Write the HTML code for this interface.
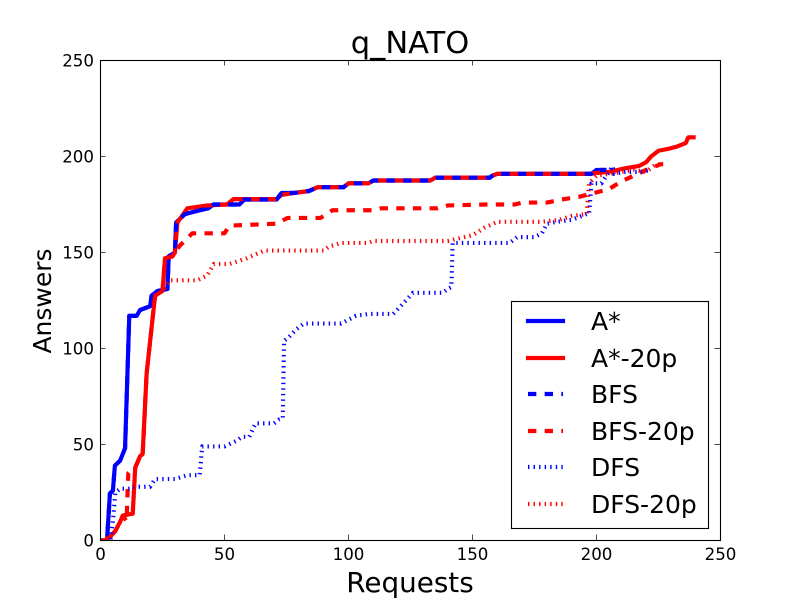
<!DOCTYPE html>
<html>
<head>
<meta charset="utf-8">
<style>
html,body{margin:0;padding:0;background:#fff;}
svg{display:block;}
text{font-family:"DejaVu Sans","Liberation Sans",sans-serif;fill:#000;}
</style>
</head>
<body>
<svg id="chart" width="800" height="600" viewBox="0 0 800 600" xmlns="http://www.w3.org/2000/svg">
  <defs><clipPath id="plot-clip"><rect x="100" y="60" width="620" height="480"/></clipPath></defs>
  <rect x="0" y="0" width="800" height="600" fill="#fff"/>
  <rect x="100" y="60" width="620" height="480" fill="#fff"/>
  <g id="series-layer" clip-path="url(#plot-clip)"></g>
  <g id="tick-layer"></g>
  <rect x="100.5" y="60.5" width="620" height="480" fill="none" stroke="#000" stroke-width="1.1"/>
  <text x="410" y="53" font-size="30.5" text-anchor="middle">q_NATO</text>
  <text x="410" y="592" font-size="27.8" text-anchor="middle">Requests</text>
  <text transform="translate(51,301) rotate(-90)" font-size="25" text-anchor="middle">Answers</text>
  <g>
    <rect x="511.5" y="301.5" width="197" height="227" fill="#fff" stroke="#000" stroke-width="1.1"/>
    <g>
      <line x1="528" x2="563" y1="321" y2="321" stroke="#00f" stroke-width="4.17" stroke-linecap="square"/>
      <text x="591" y="330" font-size="25">A*</text>
    </g>
    <g>
      <line x1="528" x2="563" y1="358" y2="358" stroke="#f00" stroke-width="4.17" stroke-linecap="square"/>
      <text x="591" y="367" font-size="25">A*-20p</text>
    </g>
    <g>
      <line x1="528" x2="563" y1="394" y2="394" stroke="#00f" stroke-width="4.17" stroke-dasharray="8.33 8.33"/>
      <text x="591" y="403" font-size="25">BFS</text>
    </g>
    <g>
      <line x1="528" x2="563" y1="431" y2="431" stroke="#f00" stroke-width="4.17" stroke-dasharray="8.33 8.33"/>
      <text x="591" y="440" font-size="25">BFS-20p</text>
    </g>
    <g>
      <line x1="528" x2="563" y1="467" y2="467" stroke="#00f" stroke-width="4.17" stroke-dasharray="1.39 4.17"/>
      <text x="591" y="476" font-size="25">DFS</text>
    </g>
    <g>
      <line x1="528" x2="563" y1="504" y2="504" stroke="#f00" stroke-width="4.17" stroke-dasharray="1.39 4.17"/>
      <text x="591" y="513" font-size="25">DFS-20p</text>
    </g>
  </g>
</svg>
<script>
var xTickValues = [0, 50, 100, 150, 200, 250];
var yTickValues = [0, 50, 100, 150, 200, 250];

var aStarRequests = [0,2.6,3.8,5,5.8,7.9,9.9,11.6,14.6,15.9,20,20.6,23,27,27.5,30,30.5,34,37,40,43.5,45.6,56,58,71,73,78,84,87.5,98,100,108,110,133,135,157,158,160,198,200,204];
var aStarAnswers = [0,0,24.5,26,39,41.6,48,117,117,120,122,127.5,130,131,148,150,165.6,170,171,172,173,175,175,177.6,177.6,181,181,182,184,184,186,186,187.5,187.5,189,189,190,191,191,193,193];

var aStar20pRequests = [0,2,4,6,8,9,13,14,16,17,18.6,22,25,26,29,30,31,35,43,51,53.6,71,73,78,84,87.5,98,100,108,110,133,135,157,158,160,197,205,212,217,220,222,225,229,232,236,237,240];
var aStar20pAnswers = [0,0,2,5,10,13,14,38,44,45,87,127.5,130,147,148,150,165.6,173,174.5,175,177.8,177.8,180,181,182,184,184,186,186,187.5,187.5,189,189,190,191,191,192,194,195,197,200,203,204,205,207,210,210];

var bfsRequests = [0,2.6,3.8,5,5.8,7.9,9.9,11.6,14.6,15.9,20,20.6,23,27,27.5,30,30.5,34,37,40,43.5,45.6,56,58,71,73,78,84,87.5,98,100,108,110,133,135,157,158,160,198,200,204];
var bfsAnswers = [0,0,24.5,26,39,41.6,48,117,117,120,122,127.5,130,131,148,150,165.6,170,171,172,173,175,175,177.6,177.6,181,181,182,184,184,186,186,187.5,187.5,189,189,190,191,191,193,193];

var bfs20pRequests = [0,2,4,6,8,9,10.5,11.2,13,14,16,17,18.6,22,25,26,29,32,37,50,52,71,75.4,88.7,93.5,110,113,136,140,155,167,170,180,186,193,199,205,210,215,221,226,228];
var bfs20pAnswers = [0,0,2,5,10,13,10,35,37,38,44,45,87,127.5,130,147,148,153.6,160,160,164,165,168,168,172,172,173,173,174.5,175,175,176,176,177.6,179,181,183,187,190,193.6,196,196];

var dfsRequests = [0,4,5,6,8,12,13,20,22,30,35,40,41,50,55,57,60,62.5,70,72,73.5,74,76,79,82,97,100,103,108,118,121,126,138,140,141.5,142,165,168,175,178,180,184,190,196,197,198,202,204,206.5,207,212,218,222];
var dfsAnswers = [0,0,10,25,27,27,28,28,32,32,34,34,49,49,52,54,54,61,61,63,63.5,104,106,110,113,113,115,117,118,118,122,129,129,131,132,155,155,158,158,160,165,166,167,170,170,186,186,190,195,191,192,192,193];

var dfs20pRequests = [0,4,6,8,9,13,14,16,17,18.6,22,25,28,39,43,45.7,52,59,66,90,92,97,108,110,140,150,155,160,178,185,190,196,197,200,210,215,220,224,226];
var dfs20pAnswers = [0,2,5,10,13,14,38,44,45,87,127.5,130,135.5,135.5,138,144,144,147,151,151,153,155,155,156,156,159,163,166,166,167,169,170,186,190,192,193,192,196,196];

function xScale(v) { return 100.5 + v * 2.48; }
function yScale(v) { return 540.5 - v * 1.92; }

var NS = 'http://www.w3.org/2000/svg';
var seriesLayer = document.getElementById('series-layer');
var tickLayer = document.getElementById('tick-layer');

function makeLine(xs, ys) {
  var path = document.createElementNS(NS, 'path');
  var d = '';
  for (var i = 0; i < xs.length; i++) {
    d += (i ? 'L' : 'M') + xScale(xs[i]).toFixed(2) + ' ' + yScale(ys[i]).toFixed(2);
  }
  path.setAttribute('d', d);
  path.setAttribute('fill', 'none');
  path.setAttribute('stroke-width', '4.17');
  path.setAttribute('stroke-linejoin', 'round');
  seriesLayer.appendChild(path);
  return path;
}

var lineAStar = makeLine(aStarRequests, aStarAnswers);


lineAStar.setAttribute('stroke', '#00f');

var lineAStar20p = makeLine(aStar20pRequests, aStar20pAnswers);


lineAStar20p.setAttribute('stroke', '#f00');

var lineBfs = makeLine(bfsRequests, bfsAnswers);


lineBfs.setAttribute('stroke', '#00f');
lineBfs.setAttribute('stroke-dasharray', '8.33 8.33');

var lineBfs20p = makeLine(bfs20pRequests, bfs20pAnswers);


lineBfs20p.setAttribute('stroke', '#f00');
lineBfs20p.setAttribute('stroke-dasharray', '8.33 8.33');

var lineDfs = makeLine(dfsRequests, dfsAnswers);


lineDfs.setAttribute('stroke', '#00f');
lineDfs.setAttribute('stroke-dasharray', '1.39 4.17');

var lineDfs20p = makeLine(dfs20pRequests, dfs20pAnswers);


lineDfs20p.setAttribute('stroke', '#f00');
lineDfs20p.setAttribute('stroke-dasharray', '1.39 4.17');

function makeTick(x1, y1, x2, y2) {
  var t = document.createElementNS(NS, 'line');
  t.setAttribute('x1', x1);
  t.setAttribute('y1', y1);
  t.setAttribute('x2', x2);
  t.setAttribute('y2', y2);
  t.setAttribute('stroke', '#000');
  t.setAttribute('stroke-width', '0.7');
  tickLayer.appendChild(t);
  return t;
}

xTickValues.forEach(function (v) {
  var x = xScale(v);
  var bottomTick = makeTick(x, 540, x, 534.5);
  
  
  var topTick = makeTick(x, 60, x, 65.5);
  
  
  var label = document.createElementNS(NS, 'text');
  
  
  label.setAttribute('x', x);
  label.setAttribute('y', 560);
  label.setAttribute('font-size', '16.67');
  label.setAttribute('text-anchor', 'middle');
  label.textContent = v;
  tickLayer.appendChild(label);
});

yTickValues.forEach(function (v) {
  var y = yScale(v);
  var leftTick = makeTick(100, y, 105.5, y);
  
  
  var rightTick = makeTick(720, y, 714.5, y);
  
  
  var label = document.createElementNS(NS, 'text');
  
  
  label.setAttribute('x', 94);
  label.setAttribute('y', y + 6);
  label.setAttribute('font-size', '16.67');
  label.setAttribute('text-anchor', 'end');
  label.textContent = v;
  tickLayer.appendChild(label);
});
</script>
</body>
</html>
